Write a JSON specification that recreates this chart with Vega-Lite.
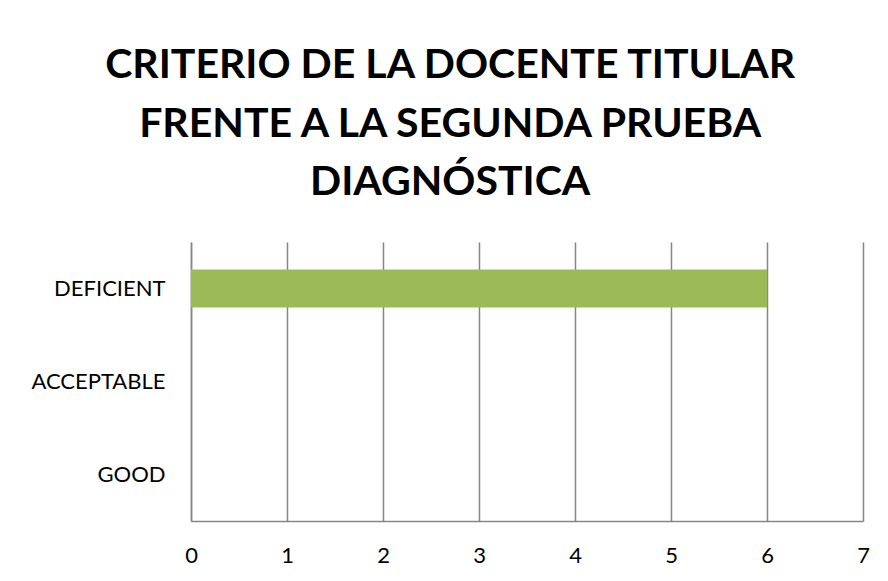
{
  "$schema": "https://vega.github.io/schema/vega-lite/v6.json",
  "width": 672,
  "height": 279,
  "autosize": "none",
  "padding": {"left": 191, "top": 242, "right": 25, "bottom": 60},
  "background": "white",
  "title": {
    "text": ["CRITERIO DE LA DOCENTE TITULAR", "FRENTE A LA SEGUNDA PRUEBA", "DIAGNÓSTICA"],
    "font": "Lato",
    "fontWeight": "bold",
    "fontSize": 41,
    "lineHeight": 58.5,
    "color": "#000000",
    "anchor": "middle",
    "frame": "bounds",
    "offset": 38
  },
  "data": {
    "values": [
      {"category": "DEFICIENT", "value": 6},
      {"category": "ACCEPTABLE", "value": 0},
      {"category": "GOOD", "value": 0}
    ]
  },
  "mark": {"type": "bar", "color": "#9BBB59"},
  "encoding": {
    "y": {
      "field": "category",
      "type": "nominal",
      "sort": ["DEFICIENT", "ACCEPTABLE", "GOOD"],
      "scale": {"paddingInner": 0.59, "paddingOuter": 0.295},
      "axis": {
        "title": null,
        "ticks": false,
        "domain": true,
        "domainColor": "#868686",
        "domainWidth": 1.5,
        "labelFont": "Lato",
        "labelFontSize": 22,
        "labelColor": "#000000",
        "labelPadding": 26
      }
    },
    "x": {
      "field": "value",
      "type": "quantitative",
      "scale": {"domain": [0, 7], "nice": false},
      "axis": {
        "title": null,
        "values": [0, 1, 2, 3, 4, 5, 6, 7],
        "ticks": false,
        "grid": true,
        "gridColor": "#868686",
        "gridWidth": 1.5,
        "domainColor": "#868686",
        "domainWidth": 1.5,
        "labelFont": "Lato",
        "labelFontSize": 22,
        "labelColor": "#000000",
        "labelPadding": 24,
        "labelFlush": false,
        "labelOverlap": false
      }
    }
  },
  "config": {
    "view": {"stroke": null}
  }
}
